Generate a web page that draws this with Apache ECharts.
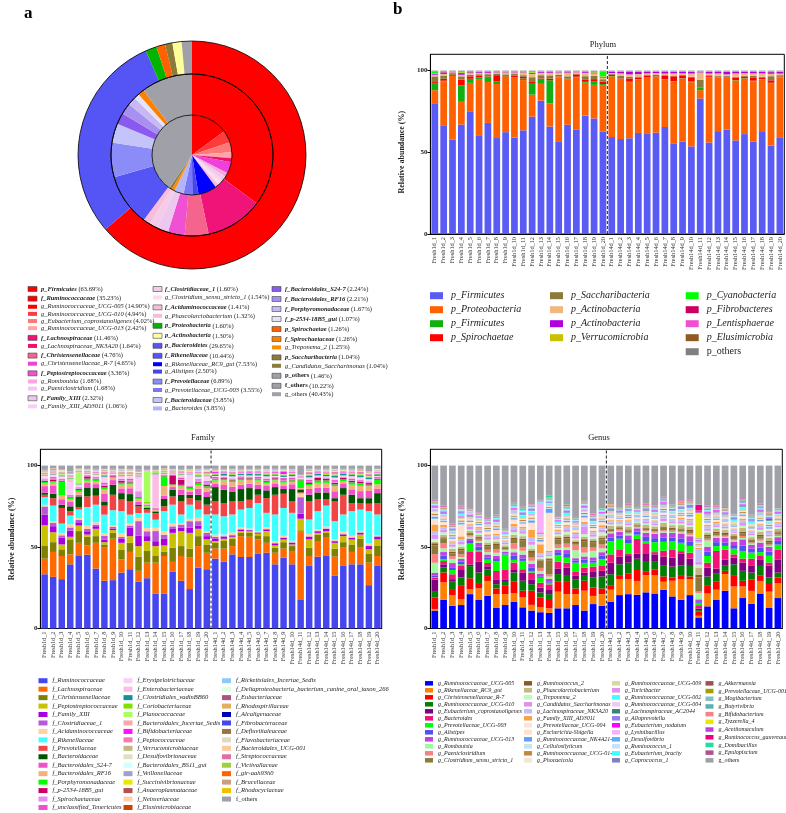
<!DOCTYPE html>
<html><head><meta charset="utf-8"><title>Microbiota composition</title>
<script src="https://cdn.jsdelivr.net/npm/echarts@6.0.0/dist/echarts.min.js"></script>
<style>
html,body{margin:0;padding:0;background:#fff;width:786px;height:813px;overflow:hidden}
.c{position:absolute}
</style></head><body>
<div id="A" class="c" style="left:0;top:0;width:390px;height:415px"></div>
<div id="B" class="c" style="left:390px;top:0;width:396px;height:415px"></div>
<div id="C" class="c" style="left:0;top:415px;width:390px;height:398px"></div>
<div id="D" class="c" style="left:390px;top:415px;width:396px;height:398px"></div>
<script>
const FONT = "'Liberation Serif','Times New Roman',serif";

// ---------- Panel a: ring data ----------
const outerNames = ['p_Firmicutes','p_Bacteroidetes','p_Proteobacteria','p_Spirochaetae','p_Saccharibacteria','p_Actinobacteria','p_others'];
const outerValues = [63.69,29.65,1.60,1.26,1.04,1.30,1.46];
const outerColors = ['#ff0000','#5555f5','#00b400','#ff6000','#8b7a3a','#ffff99','#a0a0a8'];

const middleNames = ['f_Ruminococcaceae','f_Lachnospiraceae','f_Christensenellaceae','f_Peptostreptococcaceae','f_Family_XIII','f_Clostridiaceae_1','f_Acidaminococcaceae','f_Rikenellaceae','f_Prevotellaceae','f_Bacteroidaceae','f_Bacteroidales_S24-7','f_Bacteroidales_RF16','f_Porphyromonadaceae','f_p-2534-18B5_gut','f_Spirochaetaceae','f_others'];
const middleValues = [35.23,11.46,4.76,3.36,2.32,1.60,1.41,10.44,6.89,3.85,2.24,2.21,1.67,1.07,1.26,10.22];
const middleColors = ['#ff0000','#f01478','#f5648c','#f050d2','#ecc8f0','#f4cce8','#f8bcdc','#5555f5','#8c8cf8','#c4c4fa','#8a5af0','#a890f0','#c8b8f4','#e4e4f8','#ff8000','#a0a0a8'];

const innerNames = ['g_Ruminococcaceae_UCG-005','g_Ruminococcaceae_UCG-010','g_Eubacterium_coprostanoligenes','g_Ruminococcaceae_UCG-013','g_Lachnospiraceae_NK3A20','g_Christensenellaceae_R-7','g_Romboutsia','g_Paeniclostridium','g_Family_XIII_AD3011','g_Clostridium_sensu_stricto_1','g_Phascolarctobacterium','g_Rikenellaceae_RC9_gut','g_Alistipes','g_Prevotellaceae_UCG-003','g_Bacteroides','g_Treponema_2','g_Candidatus_Saccharimonas','g_others'];
const innerValues = [14.90,4.94,4.02,2.42,1.64,4.65,1.68,1.68,1.06,1.54,1.32,7.53,2.50,3.55,3.85,1.25,1.04,40.43];
const innerColors = ['#ff0000','#ff3c3c','#ff7878','#ffa5a5','#f0106e','#f040dc','#f8a8dc','#f0c8f0','#f4d0f4','#fcdcee','#f8bcd8','#0000ff','#4646f0','#7878f8','#b4b4f8','#ff8c00','#8c7c3c','#a0a0a8'];

const legendACol1 = ['p_Firmicutes','f_Ruminococcaceae','g_Ruminococcaceae_UCG-005','g_Ruminococcaceae_UCG-010','g_Eubacterium_coprostanoligenes','g_Ruminococcaceae_UCG-013','f_Lachnospiraceae','g_Lachnospiraceae_NK3A20','f_Christensenellaceae','g_Christensenellaceae_R-7','f_Peptostreptococcaceae','g_Romboutsia','g_Paeniclostridium','f_Family_XIII','g_Family_XIII_AD3011'];
const legendACol2 = ['f_Clostridiaceae_1','g_Clostridium_sensu_stricto_1','f_Acidaminococcaceae','g_Phascolarctobacterium','p_Proteobacteria','p_Actinobacteria','p_Bacteroidetes','f_Rikenellaceae','g_Rikenellaceae_RC9_gut','g_Alistipes','f_Prevotellaceae','g_Prevotellaceae_UCG-003','f_Bacteroidaceae','g_Bacteroides'];
const legendACol3 = ['f_Bacteroidales_S24-7','f_Bacteroidales_RF16','f_Porphyromonadaceae','f_p-2534-18B5_gut','p_Spirochaetae','f_Spirochaetaceae','g_Treponema_2','p_Saccharibacteria','g_Candidatus_Saccharimonas','p_others','f_others','g_others'];

// ---------- Sample labels ----------
const sampleLabels = ['Fresh1d_1','Fresh1d_2','Fresh1d_3','Fresh1d_4','Fresh1d_5','Fresh1d_6','Fresh1d_7','Fresh1d_8','Fresh1d_9','Fresh1d_10','Fresh1d_11','Fresh1d_12','Fresh1d_13','Fresh1d_14','Fresh1d_15','Fresh1d_16','Fresh1d_17','Fresh1d_18','Fresh1d_19','Fresh1d_20','Fresh14d_1','Fresh14d_2','Fresh14d_3','Fresh14d_4','Fresh14d_5','Fresh14d_6','Fresh14d_7','Fresh14d_8','Fresh14d_9','Fresh14d_10','Fresh14d_11','Fresh14d_12','Fresh14d_13','Fresh14d_14','Fresh14d_15','Fresh14d_16','Fresh14d_17','Fresh14d_18','Fresh14d_19','Fresh14d_20'];

// ---------- Phylum ----------
const phylumNames = ['p_Firmicutes','p_Proteobacteria','p_Firmicutes','p_Spirochaetae','p_Saccharibacteria','p_Actinobacteria','p_Actinobacteria','p_Verrucomicrobia','p_Cyanobacteria','p_Fibrobacteres','p_Lentisphaerae','p_Elusimicrobia','p_others'];
const phylumColors = ['#5a5af5','#ff6000','#10b010','#ff0000','#8b7a3a','#f0b880','#b000e0','#c8c000','#00ff00','#c80060','#f050d0','#905a20','#808080'];
const ph_Firmicutes = [80,66.7,58,66.7,75.5,61,68.7,59.5,63.2,59.7,63.6,71.4,81.7,66,57,67.3,64.4,72.8,70.8,63.2,59.7,58.6,58.6,62.1,62.1,62.5,66.3,55.6,57,53.9,83.3,56.4,63.6,64.6,57,61.7,57,63.2,53.9,59.7];
const ph_Proteobacteria = [8,27,39.2,14.4,17.5,34.7,25.3,33.5,34.3,37,30.8,13.4,10.3,14.2,39.2,27.7,32.3,20.2,20.6,28.2,37.4,37,34.4,32.9,34.2,34.2,29.4,38.4,38.7,39.5,5.2,40.3,33.1,32.1,36.6,34.4,37,31.8,38.1,37];
const ph_Firmicutes_b = [4,0.3,1,9.5,2.5,1,3,1.5,0.3,0.3,1,6.6,3,14.2,0.3,0.3,0.5,0.5,2,1,0.2,0.2,0.2,0.2,0.2,0.2,0.2,0.3,0.2,0.5,1.5,0.2,0.3,0.3,0.2,0.2,0.5,0.2,0.2,0.3];
const ph_Spirochaetae = [1,1.2,0.3,3.5,1.5,1,0.3,4,0.3,1,1,1.5,0.3,1,0.3,0.3,1.5,1.5,1.5,1.5,0.8,0.3,2,0.8,1,0.3,2,3,1.5,2.5,0.3,0.5,0.3,0.3,1.5,1,2,1,1.5,0.3];
const ph_Saccharibacteria = [3.5,2,0.5,2,1,1,1.5,1,1,1,1,2.5,2,2,1,1.5,0.3,2,2,1.5,0.5,1.5,1,0.8,0.5,0.8,0.5,0.3,0.5,0.3,4.5,0.5,0.5,0.5,0.5,0.5,1,0.5,2.5,0.7];
const ph_Actinobacteria = [1,1,0.5,1,1,0.8,0.8,0.5,1,1,1.5,2,1.5,1.5,1.5,2,1,2,1.5,1,0.5,1.5,1.5,1.5,1,1.2,1,1.5,1,2,4.5,1,1.5,1,2,1.5,1.5,2,1.5,1];
const ph_Actinobacteria_b = [0.5,1,0.3,1,0.5,0.5,0.5,0.3,0.3,0.3,0.3,0.5,0.5,0.5,0.3,0.5,0.3,0.5,0.5,0.5,0.8,1,1.5,1.3,1,0.8,1,1,1,1,0.3,1,1,1.5,1,0.8,1,1,1,1];
const ph_Verrucomicrobia = [0.5,0.3,0.2,0.5,0.3,0.3,0.3,0.3,0.5,0.3,0.3,0.5,0.3,0.3,0.3,0.3,0.2,0.3,0.3,0.3,0.2,0.2,0.2,0.2,0.2,0.2,0.2,0.2,0.2,0.2,0.3,0.2,0.2,0.2,0.2,0.2,0.2,0.2,0.3,0.2];
const ph_Cyanobacteria = [1,0.1,0.1,0.3,0.1,0.2,0.1,0.1,0.1,0.1,0.1,0.5,0.2,0.2,0.1,0.1,0.1,0.1,0.3,3,0.1,0.1,0.1,0.1,0.1,0.1,0.1,0.1,0.1,0.1,0.2,0.1,0.1,0.1,0.1,0.1,0.1,0.1,0.1,0.1];
const ph_Fibrobacteres = [0.1,0.1,0,0.1,0.1,0,0.1,0.1,0,0.1,0,0.1,0,0.1,0,0.1,0,0.1,0.1,0,0.1,0,0.1,0,0.1,0,0.1,0,0.1,0,0.1,0,0.1,0,0.1,0,0.1,0,0.1,0];
const ph_Lentisphaerae = [0.1,0,0.1,0.1,0,0.1,0,0.1,0.1,0,0.1,0.1,0,0,0.1,0,0.1,0,0.1,0.1,0,0.1,0,0.1,0,0.1,0,0.1,0,0.1,0,0.1,0,0.1,0,0.1,0,0.1,0,0.1];
const ph_Elusimicrobia = [0,0.1,0,0,0.1,0,0,0.1,0,0,0.1,0,0,0,0,0.1,0,0,0.1,0,0,0,0.1,0,0,0,0.1,0,0,0,0,0.1,0,0,0,0.1,0,0,0,0.1];
const ph_others = [0.3,0.4,0.3,0.5,0.4,0.3,0.4,0.3,0.3,0.3,0.4,0.3,0.3,0.3,0.3,0.4,0.3,0.4,0.3,0.4,0.3,0.3,0.3,0.4,0.3,0.3,0.3,0.3,0.3,0.4,0.3,0.3,0.3,0.4,0.3,0.3,0.3,0.3,0.4,0.3];
const phylumData = [ph_Firmicutes,ph_Proteobacteria,ph_Firmicutes_b,ph_Spirochaetae,ph_Saccharibacteria,ph_Actinobacteria,ph_Actinobacteria_b,ph_Verrucomicrobia,ph_Cyanobacteria,ph_Fibrobacteres,ph_Lentisphaerae,ph_Elusimicrobia,ph_others];

// ---------- Family ----------
const familyNames = ['f_Ruminococcaceae','f_Lachnospiraceae','f_Christensenellaceae','f_Peptostreptococcaceae','f_Family_XIII','f_Clostridiaceae_1','f_Acidaminococcaceae','f_Rikenellaceae','f_Prevotellaceae','f_Bacteroidaceae','f_Bacteroidales_S24-7','f_Bacteroidales_RF16','f_Porphyromonadaceae','f_p-2534-18B5_gut','f_Spirochaetaceae','f_unclassified_Tenericutes',
 'f_Erysipelotrichaceae','f_Enterobacteriaceae','f_Clostridiales_vadinBB60','f_Coriobacteriaceae','f_Planococcaceae','f_Bacteroidales_Incertae_Sedis','f_Bifidobacteriaceae','f_Peptococcaceae','f_Verrucomicrobiaceae','f_Desulfovibrionaceae','f_Bacteroidales_BS11_gut','f_Veillonellaceae','f_Succinivibrionaceae','f_Anaeroplasmataceae','f_Neisseriaceae','f_Elusimicrobiaceae',
 'f_Rickettsiales_Incertae_Sedis','f_Deltaproteobacteria_bacterium_canine_oral_taxon_266','f_Eubacteriaceae','f_Rhodospirillaceae','f_Alcaligenaceae','f_Fibrobacteraceae','f_Defluviitaleaceae','f_Flavobacteriaceae','f_Bacteroidales_UCG-001','f_Streptococcaceae','f_Victivallaceae','f_gir-aah93h0','f_Brucellaceae','f_Rhodocyclaceae','f_others'];
const familyColors = ['#4646f0','#ff6a00','#7f7f00','#c8c000','#a800e0','#b858d8','#ffd0a0','#40ffff','#f24444','#005500','#f050c8','#f2b07c','#00ff00','#c80064','#e090f0','#f050d0',
 '#fcd0f4','#fcbce4','#109494','#80e000','#a8ff60','#f8a8a8','#ff10ff','#f878b4','#c0b880','#e0e0c0','#d0ffff','#a0a0d0','#e8e800','#b05050','#ffd0b0','#d04000',
 '#90c8f8','#e0ffe0','#b05080','#e0b060','#0000b0','#4646f0','#a07040','#e0d8c0','#ffc8a0','#e070a0','#a0d040','#ff6000','#c8a080','#f0c000','#a0a0a8'];
const f_Ruminococcaceae = [33.3,31.7,30.3,39.4,44.5,45.3,36.8,29.3,29.7,34.3,36.4,28.7,30.9,21.3,21.3,34.8,29.3,24.2,37.4,36.4,42.9,41,45.5,43.9,43.9,46.1,46.5,39.4,43.5,39.4,17.5,38.4,44.1,44.5,32.3,38.4,39.4,39.4,26.6,38.4];
const f_Lachnospiraceae = [9.6,15.3,14.2,6.1,8.1,5.7,15.8,20.3,25.4,8.2,10.6,6.7,9.5,19.1,23.2,6.1,15.2,19.3,13.2,10.1,6.1,8,5.1,12.8,12.4,8.6,6.1,7.1,5.5,8.2,42.3,6.1,9.6,11.2,11.8,11.2,7.6,10.2,13.8,6.1];
const f_Christensenellaceae = [8.1,6,4.1,9.2,7.2,5.3,4.1,2,3.6,5.7,5.6,8.7,7.2,4.1,2.5,8.7,6.1,5.5,6.1,5.1,3.6,4.7,4.5,2,2.4,2.5,4.1,3.1,4,3,0.5,5.1,4,3,4.9,3.4,4.6,5.5,5.7,6.5];
const f_Peptostreptococcaceae = [12.4,6.1,3,1.6,3.4,1.4,4.5,1.4,1.7,4.4,4.1,6.5,6.1,6.1,4,9.1,9.2,9.7,4.5,3.1,1,1.4,1.2,1,1,1,3.1,1.4,1.6,1,7.1,5.1,1,1,3.6,3.7,3,2.6,2.5,3.7];
const f_Family_XIII = [6.5,3.7,4.1,3.7,2,2,1.6,1.6,0.8,2.4,5.1,6.5,3,3,4,2.4,2,3.1,2,2,1.4,1.2,0.8,1,0.6,0.6,1,1.2,1,1,3.1,1.6,1,1.4,1,1,1,1,2,1.6];
const f_Clostridiaceae_1 = [5,2,1.5,2,1.6,1.4,1,2.4,1.2,1.2,1.4,8.8,3,6.2,2.6,1.6,2,4.1,2.7,2,1.2,0.4,0.3,0.3,0.3,0.3,0.3,0.3,0.3,0.3,10.1,0.3,0.3,0.3,0.3,0.3,0.3,0.3,0.3,0.3];
const f_Acidaminococcaceae = [1,1,1.5,2,1,2,1.4,1.6,0.8,2.4,1.6,2,2,2,2,1.6,1,1.4,2,1,1.4,1,1.6,1,0.8,0.8,1,0.8,1,1,2,1.4,1,1.2,1,1.4,1,1,1.6,0.8];
const f_Rikenellaceae = [4.7,9.6,5.7,5.3,5.2,11.5,10.8,11.3,9.4,13.4,5.1,3,9.3,5,12.4,11.7,5.2,8.7,5.1,10.3,12.4,11.2,11,11,12.6,17.1,8.9,16.7,17.1,17.1,0.5,8.9,11,12.8,11,10.6,15.1,13,19.5,12.6];
const f_Prevotellaceae = [1.5,4.6,9.6,2.7,1.6,6.5,5.5,5.5,9.5,7.1,8.1,4,2,4,3,5.1,8,4,5.5,6,8,8.1,8,5,5,5.1,9,12.1,8.7,7,0.5,11.1,7.5,4.1,12.1,12.1,5,4,4.6,7];
const f_Bacteroidaceae = [1.3,2.7,2,3,6.5,5.5,4.7,2.6,6.1,4,4.5,1,1,1,4.5,4.1,4.1,2.1,3.6,4.7,8.8,8.2,6.1,7.6,7.2,3.5,4.8,4.7,2.9,7.6,1.7,4.1,4,4,2,4.1,5.1,3,3.4,6.1];
const f_Bacteroidales_S24_7 = [4.5,4.9,3,2.5,1,3,2.5,4,3,2.5,3,2,0.5,0.5,2,2,3,2,3.5,3,2.5,3,3,3,3,3,2.5,2.5,2.5,3,0.5,3.5,3,3,4,3,3.5,4,4.5,3];
const f_Bacteroidales_RF16 = [2,2,2,1.5,1.5,1.5,2,2,1.5,2,2,1.5,0.5,0.5,6,1.5,2,1.5,2,2,2.5,3,3,3,2.5,3,1.5,2,2,1.5,0.5,2,3,3,3,1.5,3,3,3,3];
const f_Porphyromonadaceae = [1,1,7.7,1,1,1.5,1,1,0.5,1,1,0.5,0.5,0.5,6,0.5,1,1,1.5,1,1,1,1,1,1,1,1,1,1,1,5,1,1.5,1.5,1,1,1.5,1.5,1,3];
const f_p_2534_18B5_gut = [0.8,1,0.5,0.5,0.5,1.5,0.5,1,0.5,1,0.5,0.5,0.3,0.3,0.5,7,3,0.5,0.5,1,0.5,0.5,0.5,0.5,0.5,0.5,0.5,0.5,0.5,0.5,0.3,1,1.5,1,1,1,1,1,1,0.5];
const f_Spirochaetaceae = [1,0.5,0.5,0.5,0.5,0.3,0.5,0.5,0.3,0.5,0.5,3,0.3,0.3,0.3,0.3,0.5,0.5,1,1.5,0.3,0.3,0.3,0.3,0.3,0.3,0.3,0.3,0.3,0.3,0.3,0.5,0.3,0.3,0.5,0.3,0.5,0.5,0.5,0.3];
const f_unclassified_Tenericutes = [0.5,1,0.5,0.5,0.5,0.5,0.5,1,0.5,0.5,1,0.5,0.3,0.3,0.3,0.3,1,0.5,0.5,0.5,1,0.5,0.5,1,0.5,1,1,0.5,1.5,1,0.3,1,0.5,0.5,1,0.5,1,0.5,0.5,1];
const f_Erysipelotrichaceae = [1.5,1,1,7,1,0.5,1,2,0.5,1,1,8,0.3,0.3,0.3,0.3,1,7,1,2,0.5,0.5,1,0.5,0.5,0.5,1,0.5,0.5,0.5,0.3,1,0.5,0.5,1,0.5,1,1,1,0.5];
const f_Enterobacteriaceae = [0.5,0.5,0.5,2,0.5,0.3,0.5,1,0.3,0.5,0.5,1,0.3,20,0.3,0.3,0.5,0.5,0.5,1,0.3,0.3,0.3,0.3,0.3,0.3,0.3,0.3,0.3,0.3,0.3,0.5,0.3,0.3,0.5,0.3,0.5,0.5,0.5,0.3];
const f_Clostridiales_vadinBB60 = [0.3,0.3,0.2,0.3,0.2,0.3,0.2,0.3,0.2,0.3,0.2,0.3,0.2,0.2,0.3,0.2,0.3,0.2,0.3,0.2,1,1,1,0.8,1,1,1,0.8,1,1,0.2,1,1,0.8,1,1,1,1,1,1];
const f_Coriobacteriaceae = [0.3,0.5,0.5,0.3,0.5,0.3,0.3,0.5,0.3,0.3,0.3,0.3,1,1,0.3,0.3,0.3,0.3,1,0.3,0.5,0.5,0.4,0.5,0.6,0.5,0.4,0.5,0.6,0.5,0.3,0.5,0.4,0.5,0.6,0.5,0.4,0.5,0.6,0.5];
const f_Planococcaceae = [0.2,0.3,0.4,0.2,6,0.3,0.2,0.3,0.2,0.3,0.2,0.3,20,0.4,0.2,0.3,0.2,0.3,0.4,0.3,0.2,0.1,0.2,0.2,0.1,0.2,0.2,0.1,0.2,0.2,0.3,0.2,0.1,0.2,0.2,0.1,0.2,0.2,0.1,0.2];
const f_Bacteroidales_Incertae_Sedis = [0.4,0.3,0.3,0.5,0.2,0.3,0.4,0.5,0.3,0.4,0.3,0.4,0.2,0.2,0.3,0.4,0.5,0.3,0.4,0.5,0.3,0.2,0.3,0.2,0.3,0.3,0.2,0.3,0.2,0.3,0.1,0.4,0.3,0.3,0.4,0.2,0.3,0.3,0.4,0.3];
const f_Bifidobacteriaceae = [0.2,0.1,0.2,0.1,0.2,0.1,0.2,0.3,0.1,0.2,0.1,0.2,0.1,0.1,0.2,0.1,0.2,0.1,0.2,0.1,1,0.3,0.5,0.3,0.4,0.3,0.3,0.6,1.5,0.4,0.2,0.4,0.3,0.4,0.3,0.3,0.4,0.3,0.4,0.3];
const f_Peptococcaceae = [0.6,0.5,0.4,0.5,0.3,0.6,0.5,0.4,0.3,0.5,0.6,0.4,0.2,0.2,0.4,0.5,0.6,0.5,0.4,0.6,0.5,0.6,0.5,0.6,0.5,0.7,0.6,0.5,0.6,0.5,0.3,0.6,0.5,0.6,0.7,0.5,0.6,0.7,0.6,0.5];
const f_Verrucomicrobiaceae = [0.3,0.2,0.3,0.4,0.2,0.3,0.2,0.3,0.2,0.3,0.3,0.2,0.1,0.2,0.3,0.2,0.3,0.2,0.3,0.2,0.2,0.3,0.2,0.2,0.3,0.2,0.2,0.3,0.2,0.2,0.2,0.3,0.2,0.3,0.2,0.2,0.3,0.2,0.4,0.2];
const f_Desulfovibrionaceae = [0.3,0.3,0.2,0.3,0.2,0.2,0.3,0.2,0.2,0.3,0.2,0.3,0.1,0.1,0.2,0.3,0.2,0.3,0.2,0.3,0.3,0.2,0.3,0.3,0.2,0.3,0.2,0.2,0.3,0.2,0.1,0.2,0.3,0.2,0.3,0.2,0.2,0.3,0.2,0.3];
const f_Bacteroidales_BS11_gut = [0.2,0.1,0.2,0.2,0.1,0.2,0.2,0.1,0.2,0.1,0.2,0.1,0.1,0.1,0.2,0.1,0.2,0.2,0.1,0.2,0.2,0.2,0.1,0.2,0.2,0.1,0.2,0.2,0.1,0.2,0.1,0.2,0.1,0.2,0.2,0.1,0.2,0.1,0.2,0.2];
const f_Veillonellaceae = [0.1,0.2,0.1,0.1,0.2,0.1,0.1,0.2,0.1,0.1,0.2,0.1,0.1,0.1,0.1,0.2,0.1,0.1,0.2,0.1,0.1,0.1,0.2,0.1,0.1,0.2,0.1,0.1,0.1,0.2,0.1,0.1,0.2,0.1,0.1,0.1,0.2,0.1,0.1,0.2];
const f_Succinivibrionaceae = [0.1,0,0.1,0.2,0,0.1,0,0.1,0,0.1,0.1,0.2,0,0,0.1,0,0.1,0.2,0,0.1,0,0.1,0,0.1,0,0.1,0,0,0.1,0,0,0.1,0,0.1,0,0.1,0,0.1,0,0.1];
const f_Anaeroplasmataceae = [0.1,0.1,0,0.1,0.1,0,0.1,0.1,0,0.1,0,0.1,0,0,0.1,0.1,0,0.1,0.1,0,0.1,0,0.1,0.1,0,0.1,0.1,0,0.1,0.1,0,0.1,0,0.1,0.1,0,0.1,0.1,0,0.1];
const f_Neisseriaceae = [0,0.1,0.1,0,0.1,0,0.1,0,0.1,0,0.1,0,0,0,0,0.1,0,0.1,0,0.1,0.1,0,0,0.1,0,0,0.1,0,0,0.1,0,0,0.1,0,0,0.1,0,0,0.1,0];
const f_Elusimicrobiaceae = [0.1,0,0,0.1,0,0.1,0,0,0.1,0,0,0.1,0,0,0.1,0,0,0.1,0,0,0.1,0.1,0,0,0.1,0,0,0.1,0,0,0,0.1,0,0,0.1,0,0,0.1,0,0];
const f_Rickettsiales_Incertae_Sedis = [0.2,0.1,0.1,0.2,0.1,0.1,0.2,0.1,0.1,0.2,0.1,0.2,0.1,0.1,0.1,0.2,0.1,0.1,0.2,0.1,0.2,0.1,0.2,0.1,0.2,0.1,0.2,0.1,0.2,0.1,0.1,0.2,0.1,0.2,0.1,0.2,0.1,0.2,0.1,0.2];
const f_Deltaproteobacteria = [0.1,0,0.1,0,0.1,0,0,0.1,0,0.1,0,0.1,0,0,0,0.1,0,0,0.1,0,0.1,0,0.1,0,0,0.1,0,0.1,0,0,0,0.1,0,0,0.1,0,0.1,0,0,0.1];
const f_Eubacteriaceae = [0.1,0.1,0,0.1,0,0.1,0.1,0,0.1,0,0.1,0.1,0,0,0.1,0,0.1,0.1,0,0.1,0.1,0.1,0,0.1,0.1,0,0.1,0.1,0,0.1,0,0.1,0.1,0,0.1,0.1,0,0.1,0.1,0];
const f_Rhodospirillaceae = [0.1,0.2,0.1,0.1,0.1,0.2,0.1,0.1,0.2,0.1,0.1,0.1,0,0,0.1,0.2,0.1,0.1,0.1,0.2,0.1,0.1,0.2,0.1,0.1,0.1,0.2,0.1,0.1,0.2,0,0.1,0.1,0.2,0.1,0.1,0.2,0.1,0.1,0.1];
const f_Alcaligenaceae = [0,0.1,0,0,0.1,0,0,0,0.1,0,0,0.1,0,0,0,0,0.1,0,0,0,0.1,0,0,0.1,0,0,0,0.1,0,0,0,0,0.1,0,0,0,0.1,0,0,0];
const f_Fibrobacteraceae = [0.1,0,0,0.1,0,0,0.1,0,0,0,0.1,0,0,0,0.1,0,0,0,0.1,0,0,0.1,0,0,0,0.1,0,0,0.1,0,0,0,0,0.1,0,0,0,0.1,0,0];
const f_Defluviitaleaceae = [0.1,0.1,0,0.1,0.1,0,0.1,0,0.1,0.1,0,0.1,0,0,0,0.1,0.1,0,0.1,0,0.1,0,0.1,0.1,0,0.1,0,0.1,0,0.1,0,0.1,0,0.1,0,0.1,0.1,0,0.1,0];
const f_Flavobacteriaceae = [0,0,0.1,0,0,0.1,0,0,0,0.1,0,0,0,0,0,0,0,0.1,0,0,0,0,0,0.1,0,0,0,0,0.1,0,0,0,0,0,0.1,0,0,0,0,0.1];
const f_Bacteroidales_UCG_001 = [0.1,0.2,0.1,0.1,0.2,0.1,0.1,0.2,0.1,0.1,0.2,0.1,0,0,0.1,0.2,0.1,0.1,0.2,0.1,0.2,0.1,0.2,0.1,0.1,0.2,0.1,0.2,0.1,0.1,0,0.2,0.1,0.1,0.2,0.1,0.1,0.2,0.1,0.2];
const f_Streptococcaceae = [0,0.1,0,0.1,0,0,0.1,0,0,0.1,0,0,0,0,0,0.1,0,0,0.1,0,0,0.1,0,0,0.1,0,0,0,0.1,0,0,0,0.1,0,0,0.1,0,0,0,0.1];
const f_Victivallaceae = [0.1,0,0,0,0.1,0,0,0.1,0,0,0,0.1,0,0,0,0,0.1,0,0,0.1,0,0,0.1,0,0,0,0.1,0,0,0,0,0.1,0,0,0,0.1,0,0,0.1,0];
const f_gir_aah93h0 = [0,0,0.1,0,0,0,0.1,0,0,0,0.1,0,0,0,0,0,0,0.1,0,0,0,0,0,0,0.1,0,0,0,0,0.1,0,0,0,0,0,0,0.1,0,0,0];
const f_Brucellaceae = [0,0,0,0.1,0,0,0,0,0.1,0,0,0,0,0,0,0,0,0,0,0.1,0,0,0,0,0,0,0,0.1,0,0,0,0,0,0,0.1,0,0,0,0,0];
const f_Rhodocyclaceae = [0,0.1,0,0,0,0,0,0,0,0,0,0,0,0,0.1,0,0,0,0,0,0,0,0.1,0,0,0,0,0,0,0,0,0,0,0.1,0,0,0,0,0.1,0];
const f_others = [2.6,1.6,2.5,3.6,1.5,2,2,2,2,2,2,2.5,2.6,2.6,1.5,2,2,2,2,2,2,2,2,2,2,2,2,2,2,2,5.7,2,2,2,2,2,2,2,3.6,2];
const familyData = [f_Ruminococcaceae,f_Lachnospiraceae,f_Christensenellaceae,f_Peptostreptococcaceae,f_Family_XIII,f_Clostridiaceae_1,f_Acidaminococcaceae,f_Rikenellaceae,f_Prevotellaceae,f_Bacteroidaceae,f_Bacteroidales_S24_7,f_Bacteroidales_RF16,f_Porphyromonadaceae,f_p_2534_18B5_gut,f_Spirochaetaceae,f_unclassified_Tenericutes,
 f_Erysipelotrichaceae,f_Enterobacteriaceae,f_Clostridiales_vadinBB60,f_Coriobacteriaceae,f_Planococcaceae,f_Bacteroidales_Incertae_Sedis,f_Bifidobacteriaceae,f_Peptococcaceae,f_Verrucomicrobiaceae,f_Desulfovibrionaceae,f_Bacteroidales_BS11_gut,f_Veillonellaceae,f_Succinivibrionaceae,f_Anaeroplasmataceae,f_Neisseriaceae,f_Elusimicrobiaceae,
 f_Rickettsiales_Incertae_Sedis,f_Deltaproteobacteria,f_Eubacteriaceae,f_Rhodospirillaceae,f_Alcaligenaceae,f_Fibrobacteraceae,f_Defluviitaleaceae,f_Flavobacteriaceae,f_Bacteroidales_UCG_001,f_Streptococcaceae,f_Victivallaceae,f_gir_aah93h0,f_Brucellaceae,f_Rhodocyclaceae,f_others];
const familyMajorCount = 10;

// ---------- Genus ----------
const genusNames = ['g_Ruminococcaceae_UCG-005','g_Rikenellaceae_RC9_gut','g_Christensenellaceae_R-7','g_Ruminococcaceae_UCG-010','g_Eubacterium_coprostanoligenes','g_Bacteroides','g_Prevotellaceae_UCG-003','g_Alistipes','g_Ruminococcaceae_UCG-013','g_Romboutsia','g_Paeniclostridium','g_Clostridium_sensu_stricto_1',
 'g_Ruminococcus_2','g_Phascolarctobacterium','g_Treponema_2','g_Candidatus_Saccharimonas','g_Lachnospiraceae_NK3A20','g_Family_XIII_AD3011','g_Prevotellaceae_UCG-004','g_Escherichia-Shigella','g_Ruminococcaceae_NK4A214','g_Cellulosilyticum','g_Ruminococcaceae_UCG-014','g_Phocaeicola',
 'g_Ruminococcaceae_UCG-009','g_Turicibacter','g_Ruminococcaceae_UCG-002','g_Ruminococcaceae_UCG-004','g_Lachnospiraceae_AC2044','g_Alloprevotella','g_Eubacterium_nodatum','g_Lysinibacillus','g_Desulfovibrio','g_Ruminococcus_1','g_Eubacterium_brachy','g_Coprococcus_1',
 'g_Akkermansia','g_Prevotellaceae_UCG-001','g_Mogibacterium','g_Butyrivibrio','g_Bifidobacterium','g_Tyzzerella_4','g_Acetitomaculum','g_Ruminococcus_gauvreauii','g_Domibacillus','g_Epulopiscium','g_others'];
const genusColors = ['#0000ff','#ff8000','#ff0000','#008000','#800080','#f01478','#00ff00','#5050f0','#c040e0','#a0f8a0','#f88080','#8b7a3a',
 '#8b5a20','#c0b880','#c0f8c0','#e090f0','#c0c0f8','#ffa040','#ffe0e0','#ffe0c8','#60a0f8','#c8e0f8','#c08840','#f0e8d0',
 '#d8d8a0','#e090f0','#40ffff','#f0c8f0','#408080','#9080f0','#ff00ff','#f8b0f8','#60b0f8','#c8e0f8','#40ffff','#8080c0',
 '#a05050','#a0a000','#80c0c0','#60b0b0','#ff8080','#e8e800','#c040e0','#f00080','#20e0a0','#b05090','#a0a0a8'];
const g_UCG_005 = [11,17.7,14,14.4,21.1,17.5,20.1,12.6,14.4,16.5,13,11,10,9.6,12.4,12.4,14.4,11,15,14,16.5,20.5,21.1,20.7,22.2,21.5,23.8,19.7,17.7,20.5,6.8,13.6,17.5,23.2,12.4,18.7,15.2,21.5,12.6,18.7];
const g_RC9_gut = [1,10.6,6.5,3.7,3,7.1,9.1,8.5,6.7,5.3,6.1,3.5,3,2.8,10.2,8.7,6.7,12.2,5,7.1,7.3,9.8,9.1,8.5,10.6,11.1,4.9,9.6,12.6,9.8,1,7.9,6.3,10.2,13.4,7.1,7.9,7.7,10,9.1];
const g_R_7 = [7,6.1,3.7,8.1,6.7,3.3,3,3.5,5.1,6.9,4.1,8.7,6.1,5.7,6.1,7.5,3.5,6.1,5.1,3.5,2.8,2,3.7,6.7,2,3.5,3.3,2,2,1.6,2.5,5.1,4.9,2,6.5,3.5,7.1,3.5,4.7,3.5];
const g_UCG_010 = [4,3,4.5,5.1,7.5,6.5,4,2.6,2.4,5.7,6.1,4,3,3,4.7,3.7,5.7,3,6.1,7.3,6.7,7.1,6.5,6.9,6.1,5.3,6.9,6.7,6.5,6.5,1,5.3,5.3,3.5,7.1,6.1,4.1,5.7,4.1,3];
const g_Eubacterium_copro = [7,2,1.6,5.1,1,6.5,2,3,1.6,2,5.1,3,3,3,3.5,5.1,2,2,3.5,3.5,7.1,4.7,4.1,3.3,5.3,4.1,5.3,5.5,7.3,4.5,1,5.5,2.8,3.3,4.1,5.1,4.1,4.1,7.1,8.1];
const g_Bacteroides = [1,2,3,2,8.1,6.1,2,5.1,6.1,4.1,2,4.1,3,3,4.1,3,2.4,3,3.3,3,5.1,4.5,1.6,8.9,6.1,1.4,3.5,4.7,1.4,3.7,2,3,10.8,6.1,2,2.4,4.5,2,2,6.1];
const g_Prev_UCG_003 = [0.5,1,2.6,1,5.1,1,2,6.1,9.1,1.6,5.1,1,3,1,4.1,3,5.7,3,2.4,4.1,8.1,6.5,6.1,2.6,1.4,6.1,5.5,5.5,5.1,4.1,1,4.1,3,2.4,3.5,4.7,3.7,2.4,4.1,3];
const g_Alistipes = [1,3,2,2,2,3.5,2,2,1,3,2,2,1,1,3,3,2,2.5,2,3,3.5,3.5,4,4,4,4,3.5,3.5,4,3.5,1,3.5,3.5,3,3.5,4,3.5,3.5,3.5,3.5];
const g_UCG_013 = [2,3,3,2,2.5,3.5,2.5,3,2,2.5,3,2.5,1.5,1.5,2.5,3,2,2.5,3,2.5,4,4,3.5,4,4,4.5,4,4.5,4.5,4,2,4,4,4,3.5,4.5,3.5,4,4,3.5];
const g_Romboutsia = [7,3,3,1.5,2,1.5,2,3,1.5,2.5,3,2,2,1.5,2,2,7,3,6,3,1,1,1.5,1,1.5,1,1,1,1,1,4.5,5,1,1,1,1,1,1.5,1,1];
const g_Paeniclostridium = [6,4,2,2,1.5,1.5,2,3.5,1,4,3,2,2,1.5,3.5,3,5,4,3,3,1,1.5,1,1,1,1.5,1,1.5,1,1.5,1,1.5,1,1,1.5,1.5,1,1.5,1,1.5];
const g_Clostridium_ss1 = [6,4,2,3,1.5,1.5,3,4,1.5,3,5,3,4,9,5.5,4,1.5,5,5,4,1.5,1.5,2,1.5,1.5,1.5,2,1.5,1.5,1.5,10,2,2,1.5,2,2,1.5,2,2,2];
const g_Ruminococcus_2 = [1.5,1,1.2,1,0.8,1,1.2,1.5,0.8,1,1.5,1.2,1,1,1.5,1.2,1,1.5,1.2,1,1,0.8,1,1.2,1,0.8,1,1.2,1,0.8,2,1,1.2,1,0.8,1,1.2,1,1.2,1];
const g_Phascolarctobacterium = [1,2,2,1.5,2,2,2,2,1.5,2,2,1.5,1,1,2,2,1.5,2,2,2,2.5,2,2.5,2,2.5,2.5,3,2.5,3,2.5,5,2,2.5,2.5,2,3,2,2.5,2.5,2.5];
const g_Treponema_2 = [2,2,1.5,2,1.5,2,2.5,2,1,2,2,2.5,1,1,2,2,1.5,2,2,2.5,1.5,1.2,1.5,1.8,1.5,1.2,1.5,1.8,1.5,1.2,2,1.5,1.8,1.5,1.2,1.5,1.8,1.5,1.2,1.5];
const g_Candidatus_Saccharimonas = [3,2,1.5,2,3,2,1.5,2,1.5,2,2,2,1,1,1.5,2,2,6,2,2,1.5,1,1.5,1,1.5,1.5,2,1.5,2,1.5,2,1.5,1.5,1.5,1,2,1.5,2,1.5,1.5];
const g_Lachnospiraceae_NK3A20 = [2,2,1.5,2,2,2,1.5,2,1.5,2,2,2.5,1.5,1.5,2,2,2,2,2,2,2,2.2,2,1.8,2,2.2,2,1.8,2,2.2,9,2,1.8,2,2.2,2,1.8,2,2.2,2];
const g_Family_XIII_AD3011 = [5,2,1,2,1,1.5,1.5,1.5,1,2,1.5,5,6,1,1.5,1.5,1.5,1.5,1.5,1.5,1,1.2,1,0.8,1,1.2,1,0.8,1,1.2,1,1,1.2,0.8,1,1.2,1,0.8,1,1.2];
const g_Prev_UCG_004 = [1,1,0.8,1,0.8,1,1,1.5,0.8,1,1,1.5,0.8,0.8,1,1,1,1.5,1,1,1,0.8,1,1,0.8,1,1,0.8,1,1,0.5,1,1,0.8,1,1,0.8,1,1,0.8];
const g_Escherichia_Shigella = [3,1.5,1,8,1,1,1.5,2,1,2,1.5,3,1,24,1,1,1.5,2,1.5,1.5,1,0.8,1,0.8,1,0.8,1,0.8,1,0.8,0.5,1,0.8,1,0.8,1,0.8,1,0.8,1];
const g_NK4A214 = [1.5,1,1,1,1,1,1,1.5,1,1,1,1.5,1,2.5,1,1,1,1.5,1,1,1,1.2,1,1.2,1,1.2,1,1.2,1,1.2,0.5,1,1.2,1,1.2,1,1.2,1,1.2,1];
const g_Cellulosilyticum = [1,1,0.8,1,0.8,1,1,1.2,0.8,1,1,1,0.8,0.8,1,1,1,1.2,1,1,1,0.8,1,1,0.8,1,1,1,0.8,1,0.5,1,1,0.8,1,1,0.8,1,1,0.8];
const g_UCG_014 = [1,0.8,0.8,1,0.6,0.8,1,1,0.6,0.8,1,0.8,0.6,0.6,0.8,1,0.8,1,0.8,0.8,0.8,0.6,0.8,0.8,0.6,0.8,0.8,0.6,0.8,0.8,0.5,0.8,0.8,0.6,0.8,0.8,0.6,0.8,0.8,0.6];
const g_Phocaeicola = [0.8,0.8,0.6,0.8,0.6,0.8,0.6,0.8,0.6,0.8,0.6,0.8,0.5,0.5,0.8,0.6,0.8,0.6,0.8,0.6,0.8,0.8,0.6,0.8,0.8,0.6,0.8,0.8,0.6,0.8,0.5,0.8,0.6,0.8,0.8,0.6,0.8,0.8,0.6,0.8];
const g_UCG_009 = [1,0.8,0.8,1,0.8,1,0.8,1,0.6,1,0.8,1,0.6,0.6,0.8,1,0.8,1,0.8,1,1.2,1,1.2,1,1.2,1,1.2,1,1.2,1,0.5,1,1.2,1,1,1.2,1,1.2,1,1];
const g_Turicibacter = [0.6,0.5,0.6,2,0.5,0.6,0.5,0.6,0.4,0.6,0.5,0.8,0.4,0.4,0.5,0.6,0.5,0.8,0.6,0.5,0.4,0.5,0.4,0.5,0.4,0.5,0.4,0.5,0.4,0.5,0.3,0.5,0.4,0.5,0.4,0.5,0.4,0.5,0.4,0.5];
const g_UCG_002 = [1,1.2,0.8,1,0.8,1,0.8,1.2,0.6,1,1.2,1,0.6,0.6,1,1.2,0.8,1,1.2,1,0.8,1,0.8,1,0.8,1,0.8,1,0.8,1,0.4,1,0.8,1,1.2,0.8,1,1.2,1,0.8];
const g_UCG_004 = [0.6,0.5,0.6,0.5,0.4,0.6,0.5,0.6,0.4,0.5,0.6,0.5,0.4,0.4,0.5,0.6,0.5,0.6,0.5,0.6,0.5,0.6,0.5,0.6,0.5,0.6,0.5,0.6,0.5,0.6,0.3,0.5,0.6,0.5,0.6,0.5,0.6,0.5,0.6,0.5];
const g_AC2044 = [0.4,0.5,0.3,0.4,0.5,0.3,0.4,0.5,0.3,0.4,0.5,0.3,0.3,0.3,0.4,0.5,0.3,0.4,0.5,0.3,0.6,0.5,0.6,0.5,0.6,0.5,0.6,0.5,0.6,0.5,0.3,0.6,0.5,0.6,0.5,0.6,0.5,0.6,1.5,0.5];
const g_Alloprevotella = [0.6,0.8,0.5,0.6,0.8,0.6,0.5,0.8,0.6,0.5,0.8,0.6,0.4,0.4,0.6,0.8,0.5,0.6,0.8,0.6,0.8,1,0.8,1,0.8,1,0.8,1,0.8,1,0.3,0.8,1,0.8,1,0.8,1,0.8,1,0.8];
const g_Eubacterium_nodatum = [0.5,0.6,0.4,0.5,0.6,0.4,0.5,0.6,0.4,0.5,0.6,0.4,0.3,0.3,0.5,0.6,0.4,0.5,0.6,0.4,0.5,0.6,0.5,0.4,0.5,0.6,0.5,0.4,0.6,0.5,0.3,0.5,0.6,0.4,0.5,0.6,0.5,0.4,0.5,0.6];
const g_Lysinibacillus = [0.2,0.3,0.2,0.3,2.5,0.2,0.3,0.2,0.2,0.3,0.2,0.4,19,0.3,0.2,0.3,0.2,0.3,0.2,0.3,0.1,0.1,0.2,0.1,0.1,0.2,0.1,0.1,0.2,0.1,0.1,0.2,0.1,0.1,0.2,0.1,0.1,0.2,0.1,0.1];
const g_Desulfovibrio = [0.4,0.5,0.3,0.4,0.5,0.3,0.4,0.5,0.3,0.4,0.5,0.3,0.3,0.3,0.4,0.5,0.3,0.4,0.5,0.3,0.5,0.4,0.5,0.4,0.5,0.4,0.5,0.4,0.5,0.4,0.2,0.5,0.4,0.5,0.4,0.5,0.4,0.5,0.4,0.5];
const g_Ruminococcus_1 = [0.4,0.3,0.4,0.5,0.3,0.4,0.3,0.4,0.3,0.4,0.5,0.3,0.3,0.3,0.4,0.3,0.4,0.5,0.3,0.4,0.4,0.3,0.4,0.5,0.3,0.4,0.3,0.4,0.5,0.3,0.2,0.4,0.3,0.4,0.5,0.3,0.4,0.3,0.4,0.5];
const g_Eubacterium_brachy = [0.6,0.8,0.4,0.6,0.8,0.5,0.6,0.8,0.4,0.6,0.8,0.5,0.4,0.4,0.6,0.8,0.5,0.6,0.8,0.5,0.4,0.5,0.4,0.5,0.4,0.5,0.4,0.5,0.4,0.5,0.2,0.4,0.5,0.4,0.5,0.4,0.5,0.4,0.5,0.4];
const g_Coprococcus_1 = [0.3,0.4,0.3,0.3,0.4,0.3,0.3,0.4,0.3,0.3,0.4,0.3,0.2,0.2,0.3,0.4,0.3,0.3,0.4,0.3,0.4,0.3,0.4,0.3,0.4,0.3,0.4,0.3,0.4,0.3,0.2,0.4,0.3,0.4,0.3,0.4,0.3,0.4,0.8,0.3];
const g_Akkermansia = [0.2,0.1,0.2,0.3,0.1,0.2,0.1,0.2,0.1,0.2,0.3,0.1,0.1,0.1,0.2,0.1,0.2,0.3,0.1,0.2,0.2,0.1,0.2,0.1,0.2,0.1,0.2,0.1,0.2,0.1,0.1,0.2,0.1,0.2,0.1,0.2,0.1,0.2,0.1,0.2];
const g_Prev_UCG_001 = [0.3,0.4,0.2,0.3,0.4,0.3,0.2,0.4,0.3,0.3,0.4,0.2,0.2,0.2,0.3,0.4,0.2,0.3,0.4,0.3,0.5,0.4,0.5,0.4,0.5,0.4,0.5,0.4,0.5,0.4,0.1,0.5,0.4,0.5,0.4,0.5,0.4,0.5,0.4,0.5];
const g_Mogibacterium = [0.3,0.2,0.3,0.2,0.3,0.2,0.3,0.2,0.3,0.2,0.3,0.2,0.2,0.2,0.3,0.2,0.3,0.2,0.3,0.2,0.3,0.2,0.3,0.2,0.3,0.2,0.3,0.2,0.3,0.2,0.1,0.3,0.2,0.3,0.2,0.3,0.2,0.3,0.2,0.3];
const g_Butyrivibrio = [0.3,0.4,0.3,0.4,0.3,0.4,0.3,0.4,0.3,0.4,0.3,0.4,0.2,0.2,0.3,0.4,0.3,0.4,0.3,0.4,0.5,0.4,0.5,0.4,0.5,0.4,0.5,0.4,0.5,0.4,0.2,0.5,0.4,0.5,0.4,0.5,0.4,0.5,0.8,0.4];
const g_Bifidobacterium = [0.2,0.1,0.2,0.1,0.2,0.1,0.2,0.3,0.1,0.2,0.1,0.2,0.1,0.1,0.2,0.1,0.2,0.1,0.2,0.1,0.8,0.3,0.4,0.3,0.4,0.3,0.3,0.5,1.2,0.4,0.2,0.4,0.3,0.4,0.3,0.3,0.4,0.3,0.4,0.3];
const g_Tyzzerella_4 = [0.1,0.2,0.1,0.1,0.2,0.1,0.1,0.2,0.1,0.1,0.2,0.1,0.1,0.1,0.1,0.2,0.1,0.1,0.2,0.1,0.2,0.1,0.2,0.1,0.2,0.1,0.2,0.1,0.2,0.1,17.7,0.2,0.1,0.2,0.1,0.2,0.1,0.2,0.1,0.2];
const g_Acetitomaculum = [0.3,0.4,0.3,0.3,0.4,0.3,0.3,0.4,0.3,0.3,0.4,0.3,0.2,0.2,0.3,0.4,0.3,0.3,0.4,0.3,0.4,0.3,0.4,0.3,0.4,0.3,0.4,0.3,0.4,0.3,1.5,0.4,0.3,0.4,0.3,0.4,0.3,0.4,0.3,0.4];
const g_Ruminococcus_gauvreauii = [0.2,0.3,0.2,0.2,0.3,0.2,0.2,0.3,0.2,0.2,0.3,0.2,0.1,0.1,0.2,0.3,0.2,0.2,0.3,0.2,0.3,0.2,0.3,0.2,0.3,0.2,0.3,0.2,0.3,0.2,4,0.3,0.2,0.3,0.2,0.3,0.2,0.3,0.2,0.3];
const g_Domibacillus = [0.1,0.2,0.1,0.1,0.2,0.1,0.1,0.2,0.1,0.1,0.2,0.1,0.5,1,0.1,0.2,0.1,0.1,0.2,0.1,0.1,0.2,0.1,0.1,0.2,0.1,0.1,0.2,0.1,0.1,0.1,0.2,0.1,0.1,0.2,0.1,0.1,0.2,0.1,0.1];
const g_Epulopiscium = [0.2,0.1,0.2,0.2,0.1,0.2,0.2,0.1,0.2,0.2,0.1,0.2,0.1,0.1,0.2,0.1,0.2,0.2,0.1,0.2,0.2,0.1,0.2,0.2,0.1,0.2,0.2,0.1,0.2,0.2,0.1,0.2,0.2,0.1,0.2,0.2,0.1,0.2,0.2,0.1];
const g_others = [21,24.6,35.6,24.6,26,28.7,32.1,30.1,38.8,22.6,25,23,20.5,18.5,31.1,24,31.5,21.3,29.5,25.4,23,25.4,23.4,25.4,23.4,24.6,18.9,24,21.3,21,24,24.6,24.6,25.4,29.1,19.9,30.1,23.4,28,25.4];
const genusData = [g_UCG_005,g_RC9_gut,g_R_7,g_UCG_010,g_Eubacterium_copro,g_Bacteroides,g_Prev_UCG_003,g_Alistipes,g_UCG_013,g_Romboutsia,g_Paeniclostridium,g_Clostridium_ss1,
 g_Ruminococcus_2,g_Phascolarctobacterium,g_Treponema_2,g_Candidatus_Saccharimonas,g_Lachnospiraceae_NK3A20,g_Family_XIII_AD3011,g_Prev_UCG_004,g_Escherichia_Shigella,g_NK4A214,g_Cellulosilyticum,g_UCG_014,g_Phocaeicola,
 g_UCG_009,g_Turicibacter,g_UCG_002,g_UCG_004,g_AC2044,g_Alloprevotella,g_Eubacterium_nodatum,g_Lysinibacillus,g_Desulfovibrio,g_Ruminococcus_1,g_Eubacterium_brachy,g_Coprococcus_1,
 g_Akkermansia,g_Prev_UCG_001,g_Mogibacterium,g_Butyrivibrio,g_Bifidobacterium,g_Tyzzerella_4,g_Acetitomaculum,g_Ruminococcus_gauvreauii,g_Domibacillus,g_Epulopiscium,g_others];
const genusMajorCount = 7;

// ---------- helpers ----------
// Scale the non-fixed layers of each bar so every stack totals 100 %.
function toRelative(arrs, fixed){
  const n = arrs[0].length, out = arrs.map(a=>a.slice());
  for(let j=0;j<n;j++){
    let fs=0, vs=0;
    arrs.forEach((a,i)=>{ if(fixed.has(i)) fs+=a[j]; else vs+=a[j]; });
    const k = vs>0 ? Math.max(0,100-fs)/vs : 0;
    arrs.forEach((a,i)=>{ if(!fixed.has(i)) out[i][j]=a[j]*k; });
  }
  return out;
}
function uniqueNames(names){
  const seen={};
  return names.map(n=>{ seen[n]=(seen[n]||0)+1; return seen[n]>1 ? n+'#'+seen[n] : n; });
}
const stripTag = n => n.replace(/#\d+$/,'');
const splitIndex = sampleLabels.filter(s=>s.indexOf('Fresh1d_')===0).length;

function barPanel(o){
  const ids = uniqueNames(o.names);
  const series = ids.map((id,i)=>({
    name:id, type:'bar', stack:'all', data:o.data[i], barCategoryGap:'24%',
    itemStyle:{color:o.colors[i]}, emphasis:{disabled:true}
  }));
  series.push({type:'line', xAxisIndex:1, yAxisIndex:0, data:[[splitIndex,0],[splitIndex,110]],
    symbol:'none', silent:true, z:10, lineStyle:{type:[3,2], color:'#222', width:1}});
  const legends = o.legendCols.map(c=>({
    orient:'vertical', left:c.left, top:c.top, padding:0, itemGap:0, height:300,
    itemWidth:o.lw, itemHeight:o.lh, icon:'rect', selectedMode:false,
    data: ids.slice(c.from,c.to).map(n=>({name:n, textStyle: /^[pfg]_others$/.test(stripTag(n)) ? {fontStyle:'normal'} : {}})),
    formatter: stripTag,
    textStyle:{fontFamily:FONT, fontSize:o.lfs, fontStyle:'italic', color:'#222', lineHeight:c.row, padding:[0,0,0,o.lpad||0]}
  }));
  return {
    animation:false,
    title:{text:o.title, left:o.titleX, top:o.titleY, textAlign:'center', padding:0,
      textStyle:{fontFamily:FONT, fontSize:8.5, fontWeight:'normal', color:'#222'}},
    grid:{left:o.grid[0], right:o.grid[1], top:o.grid[2], bottom:o.grid[3], show:true, borderColor:'#000', borderWidth:1},
    xAxis:[{type:'category', data:sampleLabels, axisTick:{show:false}, axisLine:{lineStyle:{color:'#000'}},
        axisLabel:{rotate:90, interval:0, fontSize:6.3, fontFamily:FONT, color:'#333', margin:3}},
      {type:'value', min:0, max:sampleLabels.length, show:false}],
    yAxis:{type:'value', min:0, max:110, interval:50,
      name:'Relative abundance (%)', nameLocation:'middle', nameGap:o.nameGap,
      nameTextStyle:{fontFamily:FONT, fontSize:8, fontWeight:'bold', color:'#222', padding:o.namePad||0},
      axisLine:{show:true, lineStyle:{color:'#000'}},
      axisTick:{show:true, length:3, lineStyle:{color:'#000'}, customValues:[0,50,100]},
      splitLine:{show:false},
      axisLabel:{fontFamily:FONT, fontSize:7, fontWeight:'bold', color:'#222', margin:3, customValues:[0,50,100],
        formatter:v=> (v%50===0 && v<=100) ? String(v) : ''}},
    legend:legends,
    series:series
  };
}

// ---------- Panel A ----------
(function(){
  const chart = echarts.init(document.getElementById('A'), null, {renderer:'canvas'});
  const info = {};
  [[outerNames,outerValues,outerColors],[middleNames,middleValues,middleColors],[innerNames,innerValues,innerColors]]
    .forEach(([n,v,c])=>n.forEach((name,i)=>info[name]={pct:v[i], color:c[i]}));
  const ring = (names, values, colors, r) => ({
    type:'pie', radius:r, center:[192,155], startAngle:90, clockwise:true,
    label:{show:false}, labelLine:{show:false}, emphasis:{scale:false}, avoidLabelOverlap:false,
    itemStyle:{borderWidth:0},
    data:names.map((n,i)=>({name:n, value:values[i], itemStyle:{color:colors[i]}}))
  });
  const outline = r => ({type:'pie', radius:r, center:[192,155], silent:true, z:5,
    label:{show:false}, labelLine:{show:false},
    data:[{value:1, name:'', itemStyle:{color:'rgba(0,0,0,0)', borderColor:'#000', borderWidth:0.8}}]});

  const elements = [{type:'text', left:24, top:5, style:{text:'a', fontFamily:FONT, fontSize:17, fontWeight:'bold', fill:'#000'}}];
  const cols = [{names:legendACol1, sx:28, tx:41, f:0.965},{names:legendACol2, sx:153, tx:165, f:1},{names:legendACol3, sx:272, tx:285, f:1}];
  cols.forEach(col=>{
    let y = 289, prev = null;
    col.names.forEach((name,i)=>{
      const header = !name.startsWith('g_');
      if(i>0) y += col.f*(header ? 10 : (prev.startsWith('g_') ? 7.4 : 8.4));
      prev = name;
      const it = info[name];
      elements.push({type:'rect', shape:{x:col.sx, y:y-(header?2.5:2), width:9, height:header?5:4},
        style:{fill:it.color, stroke:header?'#444':null, lineWidth:header?0.6:0}});
      const others = /others$/.test(name);
      elements.push({type:'text', x:col.tx, y:y,
        style:{text:'{n|'+name+'}{p| ('+it.pct.toFixed(2)+'%)}', verticalAlign:'middle', fill:'#222',
          fontFamily:FONT, fontSize:6.5,
          rich:{n:{fontFamily:FONT, fontSize:6.5, fontStyle:others?'normal':'italic', fontWeight:header?'bold':'normal', fill:'#222'},
                p:{fontFamily:FONT, fontSize:6.5, fill:'#222'}}}});
    });
  });
  chart.setOption({
    animation:false,
    series:[ring(innerNames,innerValues,innerColors,[0,40]), ring(middleNames,middleValues,middleColors,[40,81]),
            ring(outerNames,outerValues,outerColors,[81,114]), outline([40,81]), outline([81,114])],
    graphic:{elements}
  });
})();

// ---------- Panel B: Phylum ----------
(function(){
  const chart = echarts.init(document.getElementById('B'));
  const data = toRelative(phylumData, new Set());
  const opt = barPanel({names:phylumNames, colors:phylumColors, data, title:'Phylum', titleX:213, titleY:40.5,
    grid:[37.7,1.7,54.3,181], nameGap:19, namePad:[0,16,0,0],
    lw:13, lh:7, lfs:10, lpad:3,
    legendCols:[{from:0,to:4,left:40,top:288.7,row:14},{from:4,to:8,left:160,top:288.7,row:14},{from:8,to:13,left:295.7,top:288.7,row:14}]});
  opt.graphic = {elements:[{type:'text', left:3, top:1, style:{text:'b', fontFamily:FONT, fontSize:17, fontWeight:'bold', fill:'#000'}}]};
  chart.setOption(opt);
})();

// ---------- Panel C: Family ----------
(function(){
  const chart = echarts.init(document.getElementById('C'));
  const fixed = new Set([...Array(familyMajorCount).keys(), familyData.length-1]);
  const data = toRelative(familyData, fixed);
  chart.setOption(barPanel({names:familyNames, colors:familyColors, data, title:'Family', titleX:203, titleY:18.5,
    grid:[26.7,8.3,34.3,184.5], nameGap:16,
    lw:9, lh:5, lfs:6.5,
    legendCols:[{from:0,to:16,left:38.5,top:261.5,row:8.45},{from:16,to:32,left:123.5,top:261.5,row:8.45},{from:32,to:47,left:222,top:261.5,row:8.45}]}));
})();

// ---------- Panel D: Genus ----------
(function(){
  const chart = echarts.init(document.getElementById('D'));
  const fixed = new Set([...Array(genusMajorCount).keys(), genusData.length-1]);
  const data = toRelative(genusData, fixed);
  chart.setOption(barPanel({names:genusNames, colors:genusColors, data, title:'Genus', titleX:209, titleY:18.5,
    grid:[36,3.7,34.3,184.5], nameGap:18,
    lw:8, lh:4.5, lfs:6,
    legendCols:[{from:0,to:12,left:35,top:264.8,row:7},{from:12,to:24,left:134,top:264.8,row:7},{from:24,to:36,left:222,top:264.8,row:7},{from:36,to:47,left:315.5,top:264.5,row:7.7}]}));
})();
</script>
</body></html>
